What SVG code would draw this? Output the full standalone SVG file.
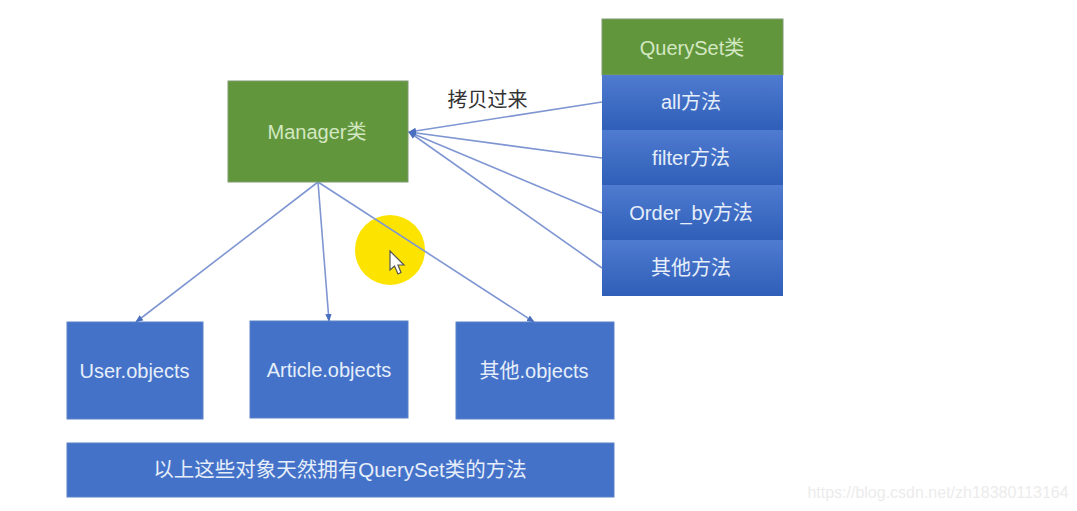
<svg xmlns="http://www.w3.org/2000/svg" width="1077" height="511" viewBox="0 0 1077 511">
<defs>
<linearGradient id="method" x1="0" y1="0" x2="0" y2="1"><stop offset="0" stop-color="#4f7bd0"/><stop offset="1" stop-color="#2f5fb8"/></linearGradient>
<marker id="arr" markerWidth="8" markerHeight="8" refX="7" refY="4" orient="auto" markerUnits="userSpaceOnUse"><path d="M0,0.8 L8,4 L0,7.2 Z" fill="#4a6fbe"/></marker>
</defs>
<style>
text{font-family:"Liberation Sans","Noto Sans CJK SC",sans-serif;font-size:20px;text-anchor:middle;fill:#e6eefa}
.green{fill:#62963c;stroke:#7f9a70;stroke-width:1}
.blue{fill:#4472c9;stroke:#5b82c8;stroke-width:1}
.meth{fill:url(#method);stroke:none}
.con{stroke:#7f96d2;stroke-width:1.6;fill:none;marker-end:url(#arr)}
.g{fill:#d3e8c2}
</style>
<rect width="1077" height="511" fill="#fff"/>
<g id="cursor">
<circle cx="390" cy="250" r="35" fill="#fce400"/>
<path d="M390,251 L390,270 L394.500,266 L398,274 L401,272.500 L398,265 L404,265 Z" fill="#fff" stroke="#555" stroke-width="1.200"/>
</g>
<g id="connectors">
<line class="con" x1="602" y1="102" x2="409" y2="132"/>
<line class="con" x1="602" y1="158" x2="409" y2="132"/>
<line class="con" x1="602" y1="213" x2="409" y2="132"/>
<line class="con" x1="602" y1="268" x2="409" y2="132"/>
<line class="con" x1="318" y1="182" x2="136" y2="322"/>
<line class="con" x1="318" y1="182" x2="329" y2="321"/>
<line class="con" x1="318" y1="182" x2="534" y2="322"/>
</g>
<g id="manager"><rect class="green" x="228" y="81" width="180" height="101"/><text class="g" x="317" y="139">Manager类</text></g>
<g id="queryset"><rect class="green" x="602" y="19" width="181" height="56"/><text class="g" x="692" y="55">QuerySet类</text></g>
<g id="all"><rect class="meth" x="602" y="75" width="181" height="55"/><text x="691" y="109">all方法</text></g>
<g id="filter"><rect class="meth" x="602" y="130" width="181" height="55"/><text x="691" y="165">filter方法</text></g>
<g id="order"><rect class="meth" x="602" y="185" width="181" height="55"/><text x="691" y="220">Order_by方法</text></g>
<g id="other"><rect class="meth" x="602" y="240" width="181" height="56"/><text x="691" y="275">其他方法</text></g>
<g id="user"><rect class="blue" x="67" y="322" width="136" height="97"/><text x="134.500" y="378">User.objects</text></g>
<g id="article"><rect class="blue" x="250" y="321" width="158" height="97"/><text x="329" y="377">Article.objects</text></g>
<g id="other-objects"><rect class="blue" x="456" y="322" width="158" height="97"/><text x="534" y="378">其他.objects</text></g>
<g id="note"><rect class="blue" x="67" y="443" width="547" height="54"/><text x="340" y="477" style="font-size:20.500px">以上这些对象天然拥有QuerySet类的方法</text></g>
<text x="487.500" y="107" style="fill:#333">拷贝过来</text>
<text x="938" y="498" style="fill:#ececec;font-size:16px">https://blog.csdn.net/zh18380113164</text>
</svg>
